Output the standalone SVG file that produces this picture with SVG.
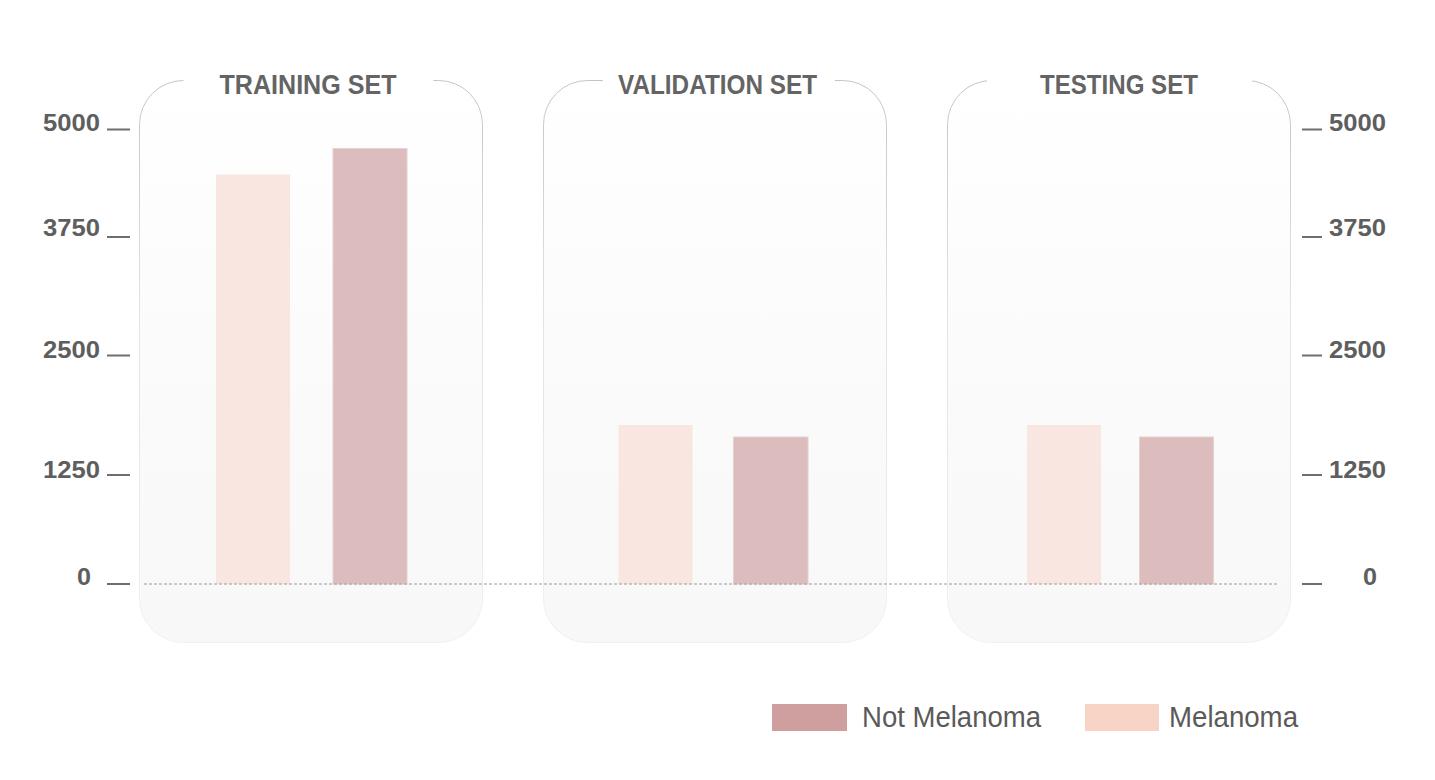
<svg xmlns="http://www.w3.org/2000/svg" width="1435" height="780" viewBox="0 0 1435 780">
<defs>
<linearGradient id="pf" x1="0" y1="0" x2="0" y2="1">
<stop offset="0" stop-color="#ffffff"/>
<stop offset="0.6" stop-color="#fafafa"/>
<stop offset="1" stop-color="#f8f8f8"/>
</linearGradient>
<linearGradient id="ps" x1="0" y1="0" x2="0" y2="1">
<stop offset="0" stop-color="#c4c4c4"/>
<stop offset="0.4" stop-color="#e2e2e2"/>
<stop offset="1" stop-color="#f0f0f0"/>
</linearGradient>
</defs>
<style>
.panel{fill:url(#pf);stroke:url(#ps);stroke-width:1}
.gap{fill:#ffffff}
.title{font-family:"Liberation Sans",Arial,sans-serif;font-weight:bold;font-size:27px;fill:#646464;text-anchor:middle}
.ax{font-family:"Liberation Sans",Arial,sans-serif;font-weight:bold;font-size:23.5px;fill:#5e5e5e}
.tick{stroke:#6e6e6e;stroke-width:2}
.mel{fill:#f9e6e0}
.not{fill:#dcbcbc;stroke:#e6d0d0;stroke-width:1}
.leg{font-family:"Liberation Sans",Arial,sans-serif;font-size:29px;fill:#5a5a5a}
</style>
<rect width="1435" height="780" fill="#ffffff"/>

<g id="panel-training">
<rect class="panel" x="139.5" y="80.5" width="343" height="562" rx="44" ry="44"/>
<rect class="gap" x="183.5" y="76" width="250" height="9"/>
<text class="title" x="308" y="94" textLength="177" lengthAdjust="spacingAndGlyphs">TRAINING SET</text>
<rect class="mel" x="216" y="174.5" width="74" height="409.5"/>
<rect class="not" x="333" y="148.5" width="74" height="435.5"/>
</g>

<g id="panel-validation">
<rect class="panel" x="543.5" y="80.5" width="343" height="562" rx="44" ry="44"/>
<rect class="gap" x="603" y="76" width="232" height="9"/>
<text class="title" x="717.5" y="94" textLength="199" lengthAdjust="spacingAndGlyphs">VALIDATION SET</text>
<rect class="mel" x="618.5" y="425" width="74" height="159"/>
<rect class="not" x="733.5" y="437" width="74.5" height="147"/>
</g>

<g id="panel-testing">
<rect class="panel" x="947.5" y="80.5" width="343" height="562" rx="44" ry="44"/>
<rect class="gap" x="987" y="76" width="265" height="9"/>
<text class="title" x="1119" y="94" textLength="158" lengthAdjust="spacingAndGlyphs">TESTING SET</text>
<rect class="mel" x="1027" y="425" width="74" height="159"/>
<rect class="not" x="1139.5" y="437" width="74" height="147"/>
</g>

<g id="connectors">
<line x1="144" y1="584" x2="1278" y2="584" stroke="#9a9a9a" stroke-width="1" stroke-dasharray="3 2"/>
</g>

<g id="axis-left">
<line class="tick" x1="107" y1="129.5" x2="130" y2="129.5"/>
<line class="tick" x1="107" y1="237" x2="130" y2="237"/>
<line class="tick" x1="107" y1="355.5" x2="130" y2="355.5"/>
<line class="tick" x1="107" y1="475" x2="130" y2="475"/>
<line class="tick" x1="107" y1="584" x2="130" y2="584"/>
<text class="ax" x="43" y="131" textLength="57" lengthAdjust="spacingAndGlyphs">5000</text>
<text class="ax" x="43" y="236" textLength="57" lengthAdjust="spacingAndGlyphs">3750</text>
<text class="ax" x="43" y="358" textLength="57" lengthAdjust="spacingAndGlyphs">2500</text>
<text class="ax" x="43" y="478" textLength="57" lengthAdjust="spacingAndGlyphs">1250</text>
<text class="ax" x="77" y="585" textLength="14" lengthAdjust="spacingAndGlyphs">0</text>
</g>

<g id="axis-right">
<line class="tick" x1="1302" y1="129.5" x2="1322" y2="129.5"/>
<line class="tick" x1="1302" y1="237" x2="1322" y2="237"/>
<line class="tick" x1="1302" y1="355.5" x2="1322" y2="355.5"/>
<line class="tick" x1="1302" y1="475" x2="1322" y2="475"/>
<line class="tick" x1="1302" y1="584" x2="1322" y2="584"/>
<text class="ax" x="1329" y="131" textLength="57" lengthAdjust="spacingAndGlyphs">5000</text>
<text class="ax" x="1329" y="236" textLength="57" lengthAdjust="spacingAndGlyphs">3750</text>
<text class="ax" x="1329" y="358" textLength="57" lengthAdjust="spacingAndGlyphs">2500</text>
<text class="ax" x="1329" y="478" textLength="57" lengthAdjust="spacingAndGlyphs">1250</text>
<text class="ax" x="1363" y="585" textLength="14" lengthAdjust="spacingAndGlyphs">0</text>
</g>

<g id="legend">
<rect x="772" y="704" width="75" height="27" fill="#cf9f9f"/>
<text class="leg" x="862" y="727" textLength="179" lengthAdjust="spacingAndGlyphs">Not Melanoma</text>
<rect x="1085" y="704" width="74" height="27" fill="#f8d4c7"/>
<text class="leg" x="1169" y="727" textLength="129" lengthAdjust="spacingAndGlyphs">Melanoma</text>
</g>
</svg>
